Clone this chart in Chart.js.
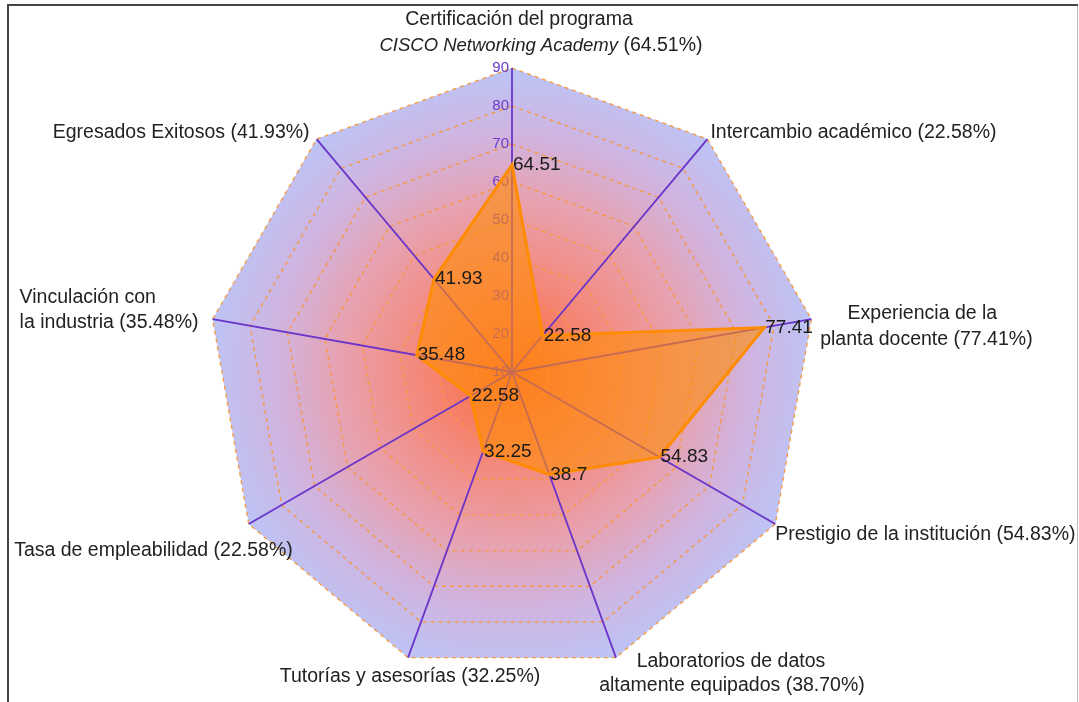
<!DOCTYPE html>
<html>
<head>
<meta charset="utf-8">
<script src="https://cdn.jsdelivr.net/npm/chart.js@4"></script>
<style>
  body { margin: 0; background: #fff; }
  #wrap { width: 1079px; height: 702px; position: relative; }
</style>
</head>
<body>
<div id="wrap"><canvas id="radarChart"></canvas></div>
<script>
// categorías (texto entre * va en cursiva)
const categories = [
  ['Certificación del programa', '*CISCO Networking Academy*'],
  ['Intercambio académico'],
  ['Experiencia de la', 'planta docente'],
  ['Prestigio de la institución'],
  ['Laboratorios de datos', 'altamente equipados'],
  ['Tutorías y asesorías'],
  ['Tasa de empleabilidad'],
  ['Vinculación con', 'la industria'],
  ['Egresados Exitosos']
];
const values = [64.51, 22.58, 77.41, 54.83, 38.70, 32.25, 22.58, 35.48, 41.93];
const tickValues = [10, 20, 30, 40, 50, 60, 70, 80, 90];

const FONT = "'Liberation Sans', Arial, sans-serif";

// posición de cada etiqueta respecto al vértice exterior
const labelLayout = [
  { align: 'center', dx: [7, 29], dy: -48, lh: 26 },
  { align: 'left', dx: [3], dy: -6 },
  { align: 'center', dx: [111, 115], dy: -6, lh: 26 },
  { align: 'left', dx: [0], dy: 11 },
  { align: 'center', dx: [115, 116], dy: 4, lh: 24 },
  { align: 'center', dx: [2], dy: 19 },
  { align: 'right', dx: [44], dy: 27 },
  { align: 'left', dx: [-193, -193], dy: -22, lh: 25 },
  { align: 'right', dx: [-7], dy: -6 }
];

function lineSegments(line) {
  return line.split('*').map((t, i) => ({ text: t, italic: i % 2 === 1 })).filter(s => s.text);
}

function segFont(s) {
  return s.italic ? 'italic 18.5px ' + FONT : '19.5px ' + FONT;
}

const radarDecor = {
  id: 'radarDecor',
  beforeDraw(chart) {
    const r = chart.scales.r;
    const ctx = chart.ctx;
    const n = categories.length;
    const grad = ctx.createRadialGradient(r.xCenter, r.yCenter, 0, r.xCenter, r.yCenter, r.drawingArea);
    grad.addColorStop(0, '#fb6a3a');
    grad.addColorStop(0.3, '#f4887a');
    grad.addColorStop(0.55, '#e9a0ac');
    grad.addColorStop(0.78, '#d0b4e0');
    grad.addColorStop(1, '#bcc4f6');
    ctx.save();
    ctx.beginPath();
    for (let i = 0; i < n; i++) {
      const p = r.getPointPositionForValue(i, r.max);
      if (i === 0) ctx.moveTo(p.x, p.y); else ctx.lineTo(p.x, p.y);
    }
    ctx.closePath();
    ctx.fillStyle = grad;
    ctx.fill();
    ctx.restore();
  },
  beforeDatasetsDraw(chart) {
    // marcas del eje vertical
    const r = chart.scales.r;
    const ctx = chart.ctx;
    ctx.save();
    ctx.font = '15px ' + FONT;
    ctx.fillStyle = '#6a3cc8';
    ctx.textAlign = 'right';
    ctx.textBaseline = 'middle';
    tickValues.forEach(v => {
      const p = r.getPointPositionForValue(0, v);
      ctx.fillText(String(v), p.x - 3, p.y);
    });
    ctx.restore();
  },
  afterDatasetsDraw(chart) {
    const ctx = chart.ctx;
    const meta = chart.getDatasetMeta(0);
    ctx.save();
    ctx.font = '19px ' + FONT;
    ctx.fillStyle = '#1a1a1a';
    ctx.textAlign = 'left';
    ctx.textBaseline = 'middle';
    meta.data.forEach((pt, i) => {
      ctx.fillText(String(values[i]), pt.x + 1, pt.y);
    });
    ctx.restore();
  },
  afterDraw(chart) {
    const r = chart.scales.r;
    const ctx = chart.ctx;
    ctx.save();
    ctx.fillStyle = '#222';
    ctx.textBaseline = 'middle';
    categories.forEach((lines, i) => {
      const lay = labelLayout[i];
      const v = r.getPointPositionForValue(i, r.max);
      const all = lines.slice();
      all[all.length - 1] += ' (' + values[i].toFixed(2) + '%)';
      all.forEach((line, j) => {
        const segs = lineSegments(line);
        let w = 0;
        segs.forEach(s => {
          ctx.font = segFont(s);
          s.w = ctx.measureText(s.text).width;
          w += s.w;
        });
        let x = v.x + lay.dx[j];
        if (lay.align === 'center') x -= w / 2;
        if (lay.align === 'right') x -= w;
        const y = v.y + lay.dy + j * (lay.lh || 0);
        ctx.textAlign = 'left';
        segs.forEach(s => {
          ctx.font = segFont(s);
          ctx.fillText(s.text, x, y);
          x += s.w;
        });
      });
    });
    // marco
    ctx.lineWidth = 2;
    ctx.strokeStyle = '#454545';
    ctx.beginPath();
    ctx.moveTo(8, 702);
    ctx.lineTo(8, 5);
    ctx.lineTo(1078, 5);
    ctx.stroke();
    ctx.lineWidth = 1;
    ctx.strokeStyle = '#b8b8b8';
    ctx.beginPath();
    ctx.moveTo(1077.5, 6);
    ctx.lineTo(1077.5, 702);
    ctx.stroke();
    ctx.restore();
  }
};

const radarData = {
  labels: categories.map(l => l.join(' ').replace(/\*/g, '')),
  datasets: [{
    label: 'Porcentaje',
    data: values,
    backgroundColor: 'rgba(255, 140, 10, 0.62)',
    borderColor: '#ff8c00',
    borderWidth: 3,
    pointRadius: 0,
    pointHoverRadius: 0
  }]
};

const radarConfig = {
  type: 'radar',
  data: radarData,
  options: {
    responsive: true,
    maintainAspectRatio: false,
    animation: false,
    layout: { padding: { top: 68, bottom: 26, left: 208, right: 263 } },
    plugins: {
      legend: { display: false },
      tooltip: { enabled: false }
    },
    scales: {
      r: {
        min: 10,
        max: 90,
        ticks: { stepSize: 10, display: false },
        pointLabels: { display: false },
        grid: { color: '#f7983c', lineWidth: 1.3 },
        border: { dash: [4, 4] },
        angleLines: { color: '#6a35c8', lineWidth: 1.8 }
      }
    }
  },
  plugins: [radarDecor]
};

const radarCtx = document.getElementById('radarChart');
if (radarCtx) new Chart(radarCtx, radarConfig);
</script>
</body>
</html>
